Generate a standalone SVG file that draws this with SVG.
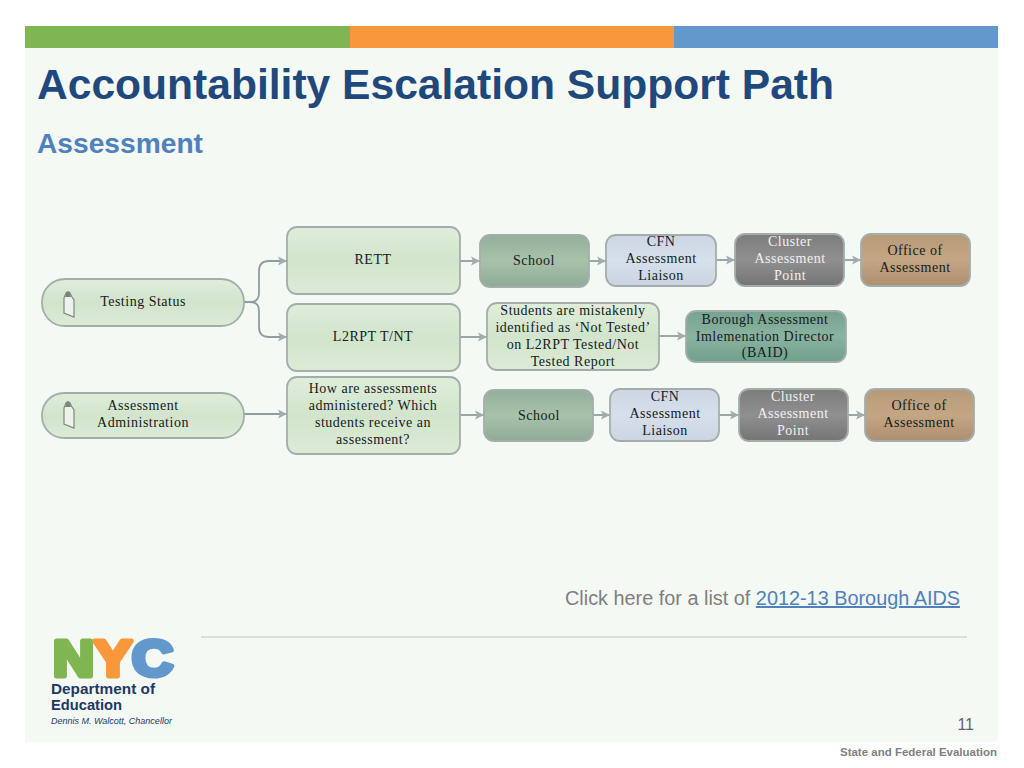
<svg xmlns="http://www.w3.org/2000/svg" width="1024" height="768" viewBox="0 0 1024 768">
<style>
.n{font-family:"Liberation Serif","Times New Roman",serif;font-size:14px;letter-spacing:.5px;text-anchor:middle;fill:#14201a}
.w{fill:#f1f1f1}
.s{stroke:#a3aeac;stroke-width:1.8}
.c{fill:none;stroke:#8f9da0;stroke-width:1.8;marker-end:url(#a)}
.h{font-family:"Liberation Sans",Arial,sans-serif;font-weight:700}
.f{font-family:"Liberation Sans",Arial,sans-serif}
.i{fill:#eef2ea;stroke:#7f887f;stroke-width:1.2}
.t{fill:#7a837a}
</style>
<defs>
<marker id="a" markerWidth="10" markerHeight="10" refX="9" refY="5" orient="auto" markerUnits="userSpaceOnUse"><path d="M0 0.5L9 5L0 9.5L2 5Z" fill="#9fadaf"/></marker>
<linearGradient id="lg" x1="0" y1="0" x2="0" y2="1"><stop offset="0" stop-color="#dfeeda"/><stop offset=".5" stop-color="#d2e4cc"/><stop offset="1" stop-color="#dcebd6"/></linearGradient>
<linearGradient id="sg" x1="0" y1="0" x2="0" y2="1"><stop offset="0" stop-color="#94b09b"/><stop offset=".5" stop-color="#a8c2aa"/><stop offset="1" stop-color="#8eab97"/></linearGradient>
<linearGradient id="bg" x1="0" y1="0" x2="0" y2="1"><stop offset="0" stop-color="#cdd7e4"/><stop offset=".5" stop-color="#d6dfea"/><stop offset="1" stop-color="#cbd5e3"/></linearGradient>
<linearGradient id="gg" x1="0" y1="0" x2="0" y2="1"><stop offset="0" stop-color="#7c7c7c"/><stop offset=".5" stop-color="#909090"/><stop offset="1" stop-color="#747474"/></linearGradient>
<linearGradient id="og" x1="0" y1="0" x2="0" y2="1"><stop offset="0" stop-color="#b79a78"/><stop offset=".5" stop-color="#c4a684"/><stop offset="1" stop-color="#ad9070"/></linearGradient>
<linearGradient id="tg" x1="0" y1="0" x2="0" y2="1"><stop offset="0" stop-color="#76a390"/><stop offset=".5" stop-color="#8ab3a0"/><stop offset="1" stop-color="#70a08c"/></linearGradient>
</defs>
<rect width="1024" height="768" fill="#fff"/>
<rect x="25" y="26" width="973" height="716" fill="#f4f9f4"/>
<g id="bars">
<rect x="25" y="26" width="325" height="22" fill="#7fb651"/>
<rect x="350" y="26" width="324" height="22" fill="#f9983a"/>
<rect x="674" y="26" width="324" height="22" fill="#6398cd"/>
</g>
<text class="h" x="37" y="99" font-size="42" fill="#1f497d" textLength="797" lengthAdjust="spacingAndGlyphs">Accountability Escalation Support Path</text>
<text class="h" x="37" y="153" font-size="27" fill="#4f81bd" textLength="166" lengthAdjust="spacingAndGlyphs">Assessment</text>

<g id="connectors">
<path class="c" d="M244 302H250Q259 302 259 293V271Q259 261 269 261H287"/>
<path class="c" d="M244 302H250Q259 302 259 311V327Q259 337 269 337H287"/>
<path class="c" d="M244 414H287"/>
<path class="c" d="M460 261H480"/>
<path class="c" d="M589 261H606"/>
<path class="c" d="M716 260H735"/>
<path class="c" d="M844 260H861"/>
<path class="c" d="M460 337H487"/>
<path class="c" d="M659 336H686"/>
<path class="c" d="M460 415H484"/>
<path class="c" d="M593 415H610"/>
<path class="c" d="M719 415H739"/>
<path class="c" d="M848 415H865"/>
</g>

<g id="testing-status">
<rect class="s" x="42" y="279" width="202" height="47" rx="23" fill="url(#lg)"/>
<path class="i" d="M64 298L66 293Q68 291 70 293L72 297L74 300V317L64 313Z"/>
<path class="t" d="M65 297L66.5 292.5Q68 291 69.5 292.5L71 297Z"/>
<text class="n" x="143" y="306">Testing Status</text>
</g>
<g id="assessment-administration">
<rect class="s" x="42" y="393" width="202" height="45" rx="22" fill="url(#lg)"/>
<path class="i" d="M64 408L66 403Q68 401 70 403L72 407L74 410V428L64 424Z"/>
<path class="t" d="M65 407L66.5 402.5Q68 401 69.5 402.5L71 407Z"/>
<text class="n" x="143" y="410">Assessment</text>
<text class="n" x="143" y="427">Administration</text>
</g>
<g id="rett">
<rect class="s" x="287" y="227" width="173" height="67" rx="10" fill="url(#lg)"/>
<text class="n" x="373" y="264">RETT</text>
</g>
<g id="l2rpt">
<rect class="s" x="287" y="304" width="173" height="67" rx="10" fill="url(#lg)"/>
<text class="n" x="373" y="341">L2RPT T/NT</text>
</g>
<g id="how">
<rect class="s" x="287" y="377" width="173" height="77" rx="10" fill="url(#lg)"/>
<text class="n" x="373" y="393">How are assessments</text>
<text class="n" x="373" y="410">administered? Which</text>
<text class="n" x="373" y="427">students receive an</text>
<text class="n" x="373" y="444">assessment?</text>
</g>
<g id="school-1">
<rect class="s" x="480" y="235" width="109" height="52" rx="10" fill="url(#sg)"/>
<text class="n" x="534" y="265">School</text>
</g>
<g id="cfn-1">
<rect class="s" x="606" y="235" width="110" height="51" rx="10" fill="url(#bg)"/>
<text class="n" x="661" y="246">CFN</text>
<text class="n" x="661" y="263">Assessment</text>
<text class="n" x="661" y="280">Liaison</text>
</g>
<g id="cluster-1">
<rect class="s" x="735" y="234" width="109" height="52" rx="10" fill="url(#gg)"/>
<text class="n w" x="790" y="246">Cluster</text>
<text class="n w" x="790" y="263">Assessment</text>
<text class="n w" x="790" y="280">Point</text>
</g>
<g id="office-1">
<rect class="s" x="861" y="234" width="109" height="52" rx="10" fill="url(#og)"/>
<text class="n" x="915" y="255">Office of</text>
<text class="n" x="915" y="272">Assessment</text>
</g>
<g id="students">
<rect class="s" x="487" y="303" width="172" height="67" rx="10" fill="url(#lg)"/>
<text class="n" x="573" y="315">Students are mistakenly</text>
<text class="n" x="573" y="332">identified as ‘Not Tested’</text>
<text class="n" x="573" y="349">on L2RPT Tested/Not</text>
<text class="n" x="573" y="366">Tested Report</text>
</g>
<g id="baid">
<rect class="s" x="686" y="311" width="160" height="51" rx="10" fill="url(#tg)"/>
<text class="n" x="765" y="324">Borough Assessment</text>
<text class="n" x="765" y="341">Imlemenation Director</text>
<text class="n" x="765" y="357">(BAID)</text>
</g>
<g id="school-2">
<rect class="s" x="484" y="390" width="109" height="51" rx="10" fill="url(#sg)"/>
<text class="n" x="539" y="420">School</text>
</g>
<g id="cfn-2">
<rect class="s" x="610" y="389" width="109" height="52" rx="10" fill="url(#bg)"/>
<text class="n" x="665" y="401">CFN</text>
<text class="n" x="665" y="418">Assessment</text>
<text class="n" x="665" y="435">Liaison</text>
</g>
<g id="cluster-2">
<rect class="s" x="739" y="389" width="109" height="52" rx="10" fill="url(#gg)"/>
<text class="n w" x="793" y="401">Cluster</text>
<text class="n w" x="793" y="418">Assessment</text>
<text class="n w" x="793" y="435">Point</text>
</g>
<g id="office-2">
<rect class="s" x="865" y="389" width="109" height="52" rx="10" fill="url(#og)"/>
<text class="n" x="919" y="410">Office of</text>
<text class="n" x="919" y="427">Assessment</text>
</g>

<text class="f" x="960" y="605" font-size="20" text-anchor="end" fill="#7f7f7f" textLength="395" lengthAdjust="spacingAndGlyphs">Click here for a list of <tspan fill="#4f81bd" text-decoration="underline">2012-13 Borough AIDS</tspan></text>
<path d="M201 637H967" stroke="#c4c8c4" stroke-width="1.2"/>

<g id="logo">
<text class="h" x="53" y="675.500" font-size="50" stroke-width="5" stroke-linejoin="round" textLength="120" lengthAdjust="spacingAndGlyphs"><tspan fill="#7fb651" stroke="#7fb651">N</tspan><tspan fill="#f9983a" stroke="#f9983a">Y</tspan><tspan fill="#6398cd" stroke="#6398cd">C</tspan></text>
<text class="h" x="51" y="694" font-size="15" fill="#1f3864" textLength="104" lengthAdjust="spacingAndGlyphs">Department of</text>
<text class="h" x="51" y="710" font-size="15" fill="#1f3864" textLength="71" lengthAdjust="spacingAndGlyphs">Education</text>
<text class="f" x="51" y="724" font-size="9" font-style="italic" fill="#1f3864">Dennis M. Walcott, Chancellor</text>
</g>
<text class="f" x="974" y="730" font-size="16" text-anchor="end" fill="#666">11</text>
<text class="h" x="997" y="756" font-size="11" text-anchor="end" fill="#7f7f7f" textLength="157" lengthAdjust="spacingAndGlyphs">State and Federal Evaluation</text>
</svg>
